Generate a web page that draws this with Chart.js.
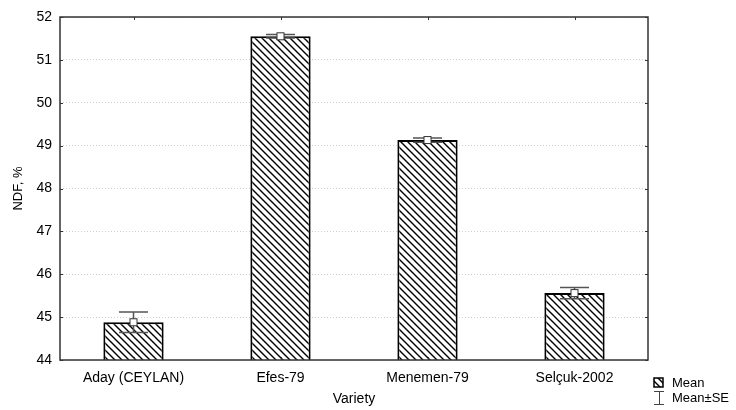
<!DOCTYPE html>
<html>
<head>
<meta charset="utf-8">
<script src="https://cdn.jsdelivr.net/npm/chart.js@4/dist/chart.umd.min.js"></script>
<style>
  html, body { margin: 0; padding: 0; background: #fff; }
  #wrap { width: 736px; height: 410px; }
</style>
</head>
<body>
<div id="wrap"><canvas id="c" width="736" height="410"></canvas></div>
<script>
const varieties = ['Aday (CEYLAN)', 'Efes-79', 'Menemen-79', 'Selçuk-2002'];
const meanNDF = [44.88, 51.55, 49.13, 45.56];
const seNDF = [0.24, 0.04, 0.05, 0.13];
const yTicks = [44, 45, 46, 47, 48, 49, 50, 51, 52];

// diagonal hatch fill like the original
function hatch() {
  const s = 7;
  const p = document.createElement('canvas');
  p.width = s; p.height = s;
  const g = p.getContext('2d');
  g.fillStyle = '#fff';
  g.fillRect(0, 0, s, s);
  g.strokeStyle = '#000';
  g.lineWidth = 1.4;
  g.beginPath();
  g.moveTo(-1, -1); g.lineTo(s + 1, s + 1);
  g.moveTo(-1, s - 1); g.lineTo(1, s + 1);
  g.moveTo(s - 1, -1); g.lineTo(s + 1, 1);
  g.stroke();
  return g.createPattern(p, 'repeat');
}

const font = '"Liberation Sans", Arial, sans-serif';

const extras = {
  id: 'extras',
  afterDatasetsDraw(chart) {
    const { ctx, chartArea: a, scales } = chart;
    const x = scales.x, y = scales.y;
    ctx.save();
    // error bars + mean markers
    meanNDF.forEach((m, i) => {
      const cx = x.getPixelForValue(i);
      const yt = y.getPixelForValue(m + seNDF[i]);
      const yb = y.getPixelForValue(m - seNDF[i]);
      const ym = y.getPixelForValue(m);
      ctx.strokeStyle = '#555';
      ctx.lineWidth = 1.5;
      ctx.beginPath();
      ctx.moveTo(cx, yt); ctx.lineTo(cx, yb);
      ctx.moveTo(cx - 14.5, yt); ctx.lineTo(cx + 14.5, yt);
      ctx.moveTo(cx - 14.5, yb); ctx.lineTo(cx + 14.5, yb);
      ctx.stroke();
      ctx.fillStyle = '#fff';
      ctx.strokeStyle = '#333';
      ctx.lineWidth = 1;
      ctx.fillRect(cx - 3.5, ym - 3.5, 7, 7);
      ctx.strokeRect(cx - 3.5, ym - 3.5, 7, 7);
    });
    // frame
    ctx.strokeStyle = '#333';
    ctx.lineWidth = 1.5;
    ctx.strokeRect(a.left, a.top, a.right - a.left, a.bottom - a.top);
    // inward ticks
    ctx.lineWidth = 1;
    ctx.beginPath();
    yTicks.forEach(t => {
      const py = Math.round(y.getPixelForValue(t)) + 0.5;
      ctx.moveTo(a.left, py); ctx.lineTo(a.left + 3, py);
      ctx.moveTo(a.right, py); ctx.lineTo(a.right - 3, py);
    });
    varieties.forEach((v, i) => {
      const px = Math.round(x.getPixelForValue(i)) + 0.5;
      ctx.moveTo(px, a.top); ctx.lineTo(px, a.top + 3);
      ctx.moveTo(px, a.bottom); ctx.lineTo(px, a.bottom - 3);
    });
    ctx.stroke();
    // legend
    const lx = 654, ly1 = 383, ly2 = 398;
    ctx.fillStyle = hatch();
    ctx.fillRect(lx, ly1 - 5, 9, 9);
    ctx.strokeStyle = '#000';
    ctx.lineWidth = 1.5;
    ctx.strokeRect(lx, ly1 - 5, 9, 9);
    ctx.strokeStyle = '#444';
    ctx.lineWidth = 1;
    ctx.beginPath();
    ctx.moveTo(lx, ly2 - 6.5); ctx.lineTo(lx + 10, ly2 - 6.5);
    ctx.moveTo(lx + 5.5, ly2 - 6.5); ctx.lineTo(lx + 5.5, ly2 + 6.5);
    ctx.moveTo(lx, ly2 + 6.5); ctx.lineTo(lx + 10, ly2 + 6.5);
    ctx.stroke();
    ctx.fillStyle = '#000';
    ctx.font = '13px ' + font;
    ctx.textBaseline = 'middle';
    ctx.fillText('Mean', lx + 18, ly1);
    ctx.fillText('Mean±SE', lx + 18, ly2);
    ctx.restore();
  }
};

new Chart(document.getElementById('c'), {
  type: 'bar',
  data: {
    labels: varieties,
    datasets: [{
      label: 'Mean',
      data: meanNDF,
      backgroundColor: hatch(),
      borderColor: '#000',
      borderWidth: 2,
      borderSkipped: false,
      barPercentage: 0.82,
      categoryPercentage: 0.5
    }]
  },
  options: {
    responsive: false,
    animation: false,
    devicePixelRatio: 1,
    layout: { padding: { left: 0, right: 88, top: 17, bottom: 0 } },
    plugins: { legend: { display: false }, tooltip: { enabled: false } },
    scales: {
      x: {
        afterFit(s) { s.height = 50; },
        grid: { display: false, drawTicks: false },
        border: { display: false },
        ticks: { color: '#000', font: { family: font, size: 14 }, padding: 10 },
        title: { display: true, text: 'Variety', color: '#000', font: { family: font, size: 14 }, padding: { top: 0, bottom: 2 } }
      },
      y: {
        min: 44, max: 52,
        afterFit(s) { s.width = 60; },
        grid: { color: '#cfcfcf', drawTicks: false },
        border: { display: false, dash: [1, 2] },
        ticks: { stepSize: 1, color: '#000', font: { family: font, size: 14 }, padding: 8 },
        title: { display: true, text: 'NDF, %', color: '#000', font: { family: font, size: 13 }, padding: { top: 11, bottom: 0 } }
      }
    }
  },
  plugins: [extras]
});
</script>
</body>
</html>
